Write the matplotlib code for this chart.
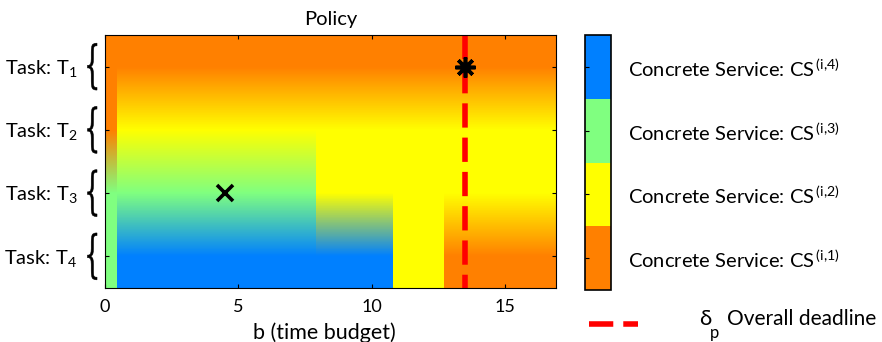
import numpy as np
import matplotlib
matplotlib.use("Agg")
import matplotlib.pyplot as plt
import matplotlib.transforms as mtransforms
from matplotlib.colors import ListedColormap, BoundaryNorm
from matplotlib.cm import ScalarMappable
from matplotlib.textpath import TextPath
from matplotlib.patches import PathPatch
from matplotlib.font_manager import FontProperties
from matplotlib.lines import Line2D

plt.rcParams['font.family'] = ['Lato', 'DejaVu Sans']
plt.rcParams['mathtext.fontset'] = 'custom'
plt.rcParams['mathtext.rm'] = 'Lato'

# policy: chosen concrete service per task, over ranges of the time budget b
b_edges = [0.0, 0.45, 7.9, 10.8, 12.7, 17.0]
policy_T1 = [1, 1, 1, 1, 1]
policy_T2 = [1, 2, 2, 2, 2]
policy_T3 = [3, 3, 2, 2, 2]
policy_T4 = [3, 4, 4, 2, 1]
tasks = [1, 2, 3, 4]
task_labels = ['Task: T$_{\\mathregular{1}}$', 'Task: T$_{\\mathregular{2}}$',
               'Task: T$_{\\mathregular{3}}$', 'Task: T$_{\\mathregular{4}}$']
service_labels = ['Concrete Service: CS$^{\\mathregular{\\,(i{,}1)}}$',
                  'Concrete Service: CS$^{\\mathregular{\\,(i{,}2)}}$',
                  'Concrete Service: CS$^{\\mathregular{\\,(i{,}3)}}$',
                  'Concrete Service: CS$^{\\mathregular{\\,(i{,}4)}}$']
service_colors = ['#ff8000', '#ffff00', '#80ff80', '#0080ff']
deadline = 13.5
marker_x = (4.5, 3)
marker_star = (13.5, 1)
xmax = 16.9

policy = np.array([policy_T1, policy_T2, policy_T3, policy_T4])
rgb = np.array([matplotlib.colors.to_rgb(c) for c in service_colors])

# sample the policy on a fine grid, colours blended linearly between tasks
nx, ny = 1690, 400
xs = np.linspace(0, xmax, nx)
ys = np.linspace(0.5, 4.5, ny)
seg = np.clip(np.searchsorted(b_edges, xs, side='right') - 1, 0, len(b_edges) - 2)
img = np.zeros((ny, nx, 3))
for j in range(nx):
    cols = rgb[policy[:, seg[j]] - 1]
    for ch in range(3):
        img[:, j, ch] = np.interp(ys, tasks, cols[:, ch])

fig = plt.figure(figsize=(8.82, 3.42), dpi=100)
ax = fig.add_axes([105/882, 54/342, 451/882, 253/342])
ax.imshow(img, extent=[0, xmax, 4.5, 0.5], aspect='auto', interpolation='nearest')
ax.set_xlim(0, xmax)
ax.set_ylim(4.5, 0.5)

ax.plot([deadline, deadline], [4.5, 0.5], color='red', lw=4,
        linestyle=(1.98, (4.37, 1.8)))
ax.plot(*marker_x, marker='x', color='black', ms=11, mew=2.6, ls='none')
ax.plot(*marker_star, marker=(8, 2, 0), color='black', ms=14.5, mew=2.6, ls='none')

ax.set_xticks([0, 5, 10, 15])
ax.set_yticks(tasks)
ax.set_yticklabels(task_labels, fontsize=14.5)
ax.tick_params(direction='in', length=3, top=True, right=True, width=0.8)
ax.tick_params(axis='x', labelsize=13, pad=8)
ax.tick_params(axis='y', pad=20)
for s in ax.spines.values():
    s.set_linewidth(0.8)
ax.set_title('Policy', fontsize=14.5, pad=7)
ax.set_xlabel('b (time budget)', fontsize=15.5)
ax.xaxis.set_label_coords(0.487, -0.135)

# curly braces next to the task labels
bp = TextPath((0, 0), '{', size=1, prop=FontProperties(family='DejaVu Serif'))
ext = bp.get_extents()
btrans = mtransforms.blended_transform_factory(fig.dpi_scale_trans, ax.transData)
for t in tasks:
    tr = (mtransforms.Affine2D()
          .translate(-ext.x0, -(ext.y0 + ext.y1) / 2)
          .scale(0.095 / ext.width, 0.74 / ext.height)
          .translate(0.875, t))
    ax.add_patch(PathPatch(tr.transform_path(bp), transform=btrans,
                           color='black', lw=0.4, clip_on=False))

# colour key
cax = fig.add_axes([585/882, 52/342, 26/882, 255/342])
cmap = ListedColormap(service_colors)
norm = BoundaryNorm([0.5, 1.5, 2.5, 3.5, 4.5], cmap.N)
cb = fig.colorbar(ScalarMappable(norm=norm, cmap=cmap), cax=cax, ticks=tasks)
cb.set_ticklabels(service_labels)
cb.outline.set_linewidth(1.2)
cax.minorticks_off()
cax.tick_params(direction='in', length=3, left=True, right=False,
                labelright=True, labelsize=14.5, pad=12)

# deadline key
fig.add_artist(Line2D([589/882, 638/882], [18/342, 18/342], color='red', lw=4,
                      linestyle=(0, (4.37, 1.8)), transform=fig.transFigure))
fig.text(699/882, 17/342, '\u03b4', fontsize=16, va='baseline', ha='left')
fig.text(710/882, 4/342, 'p', fontsize=12, va='baseline', ha='left')
fig.text(727/882, 17/342, 'Overall deadline', fontsize=15, va='baseline', ha='left')

fig.savefig('out.png', dpi=100, facecolor='white')
